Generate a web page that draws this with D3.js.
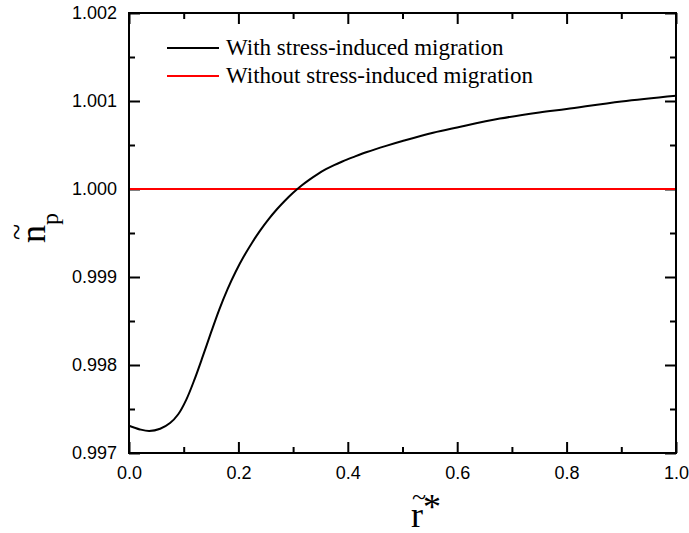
<!DOCTYPE html>
<html>
<head>
<meta charset="utf-8">
<script src="https://cdn.jsdelivr.net/npm/d3@7"></script>
<style>
  body { margin: 0; background: #fff; }
  svg { display: block; }
  .tick text { font-family: "Liberation Sans", Arial, sans-serif; font-size: 18px; fill: #000; }
  .legend-text { font-family: "Liberation Serif", "Times New Roman", serif; font-size: 23px; }
  .axis-label { font-family: "Liberation Serif", "Times New Roman", serif; }
</style>
</head>
<body>
<svg id="chart" width="689" height="533"></svg>
<script>
// curve
const rValues = [0, 0.02, 0.037, 0.057, 0.075, 0.09, 0.105, 0.12, 0.135, 0.15, 0.165, 0.18, 0.195, 0.21, 0.225, 0.24, 0.255, 0.27, 0.285, 0.3, 0.315, 0.33, 0.345, 0.36, 0.375, 0.39, 0.41, 0.435, 0.47, 0.5, 0.556, 0.6, 0.678, 0.75, 0.8, 0.9, 1.0];
const npStress = [0.99731, 0.997268, 0.99725, 0.997275, 0.99734, 0.99744, 0.99761, 0.99784, 0.9981, 0.99837, 0.99863, 0.99886, 0.99906, 0.999235, 0.99939, 0.99953, 0.999655, 0.999767, 0.999867, 0.999957, 1.000037, 1.000107, 1.00017, 1.000225, 1.000272, 1.000313, 1.000362, 1.00042, 1.00049, 1.000545, 1.00064, 1.0007, 1.0008, 1.00087, 1.00091, 1.000995, 1.00106];
const rFlat = [0, 1];
const npFlat = [1.0, 1.0];

const seriesNames = ["With stress-induced migration", "Without stress-induced migration"];
const seriesColors = ["#000000", "#ff0000"];

const xMajor = [0, 0.2, 0.4, 0.6, 0.8, 1.0];
const xMinor = [0.1, 0.3, 0.5, 0.7, 0.9];
const yMajor = [0.997, 0.998, 0.999, 1.0, 1.001, 1.002];
const yMinor = [0.9975, 0.9985, 0.9995, 1.0005, 1.0015];

const svg = d3.select("#chart");
const margin = { top: 13, right: 13, bottom: 80, left: 129 };
const innerWidth = +svg.attr("width") - margin.left - margin.right;
const innerHeight = +svg.attr("height") - margin.top - margin.bottom;

const g = svg.append("g")
  .attr("transform", `translate(${margin.left},${margin.top})`);

const x = d3.scaleLinear().domain([0, 1]).range([0, innerWidth]);
const y = d3.scaleLinear().domain([0.997, 1.002]).range([innerHeight, 0]);

function styleAxis(sel) {
  sel.select(".domain").remove();
  sel.selectAll(".tick line").attr("stroke", "#000").attr("stroke-width", 2);
}

// major ticks with labels
g.append("g")
  .attr("transform", `translate(0,${innerHeight})`)
  .call(d3.axisBottom(x).tickValues(xMajor).tickSize(-11).tickPadding(13).tickFormat(d3.format(".1f")))
  .call(styleAxis);
g.append("g")
  .call(d3.axisLeft(y).tickValues(yMajor).tickSize(-11).tickPadding(12).tickFormat(d3.format(".3f")))
  .call(styleAxis);
g.append("g")
  .call(d3.axisTop(x).tickValues(xMajor).tickSize(-11).tickFormat(""))
  .call(styleAxis);
g.append("g")
  .attr("transform", `translate(${innerWidth},0)`)
  .call(d3.axisRight(y).tickValues(yMajor).tickSize(-11).tickFormat(""))
  .call(styleAxis);

// minor ticks
g.append("g")
  .attr("transform", `translate(0,${innerHeight})`)
  .call(d3.axisBottom(x).tickValues(xMinor).tickSize(-6).tickFormat(""))
  .call(styleAxis);
g.append("g")
  .call(d3.axisTop(x).tickValues(xMinor).tickSize(-6).tickFormat(""))
  .call(styleAxis);
g.append("g")
  .call(d3.axisLeft(y).tickValues(yMinor).tickSize(-6).tickFormat(""))
  .call(styleAxis);
g.append("g")
  .attr("transform", `translate(${innerWidth},0)`)
  .call(d3.axisRight(y).tickValues(yMinor).tickSize(-6).tickFormat(""))
  .call(styleAxis);

const line = d3.line()
  .x(d => x(d[0]))
  .y(d => y(d[1]))
  .curve(d3.curveCatmullRom.alpha(0.5));

g.append("path")
  .datum(rFlat.map((r, i) => [r, npFlat[i]]))
  .attr("fill", "none")
  .attr("stroke", seriesColors[1])
  .attr("stroke-width", 2)
  .attr("d", line);

g.append("path")
  .datum(rValues.map((r, i) => [r, npStress[i]]))
  .attr("fill", "none")
  .attr("stroke", seriesColors[0])
  .attr("stroke-width", 2)
  .attr("d", line);

// frame
g.append("rect")
  .attr("width", innerWidth)
  .attr("height", innerHeight)
  .attr("fill", "none")
  .attr("stroke", "#000")
  .attr("stroke-width", 2);

// legend
const legend = g.append("g").attr("transform", "translate(38,35)");
seriesNames.forEach((name, i) => {
  const row = legend.append("g").attr("transform", `translate(0,${i * 28})`);
  row.append("line")
    .attr("x1", 0).attr("x2", 52)
    .attr("stroke", seriesColors[i])
    .attr("stroke-width", 2);
  row.append("text")
    .attr("class", "legend-text")
    .attr("x", 59)
    .attr("y", 7)
    .text(name);
});

// x axis label  r~*
const xl = svg.append("text")
  .attr("class", "axis-label")
  .attr("x", 411)
  .attr("y", 527)
  .attr("font-size", 36);
xl.append("tspan").text("r");
xl.append("tspan").attr("dy", -8).text("*");
svg.append("text")
  .attr("class", "axis-label")
  .attr("x", 419)
  .attr("y", 505)
  .attr("text-anchor", "middle")
  .attr("font-size", 26)
  .text("~");

// y axis label  n~ p
const yl = svg.append("text")
  .attr("class", "axis-label")
  .attr("transform", "translate(45,243) rotate(-90)")
  .attr("font-size", 36);
yl.append("tspan").text("n");
yl.append("tspan").attr("dy", 13).attr("font-size", 24).text("p");
svg.append("text")
  .attr("class", "axis-label")
  .attr("transform", "translate(27,232) rotate(-90)")
  .attr("text-anchor", "middle")
  .attr("font-size", 30)
  .text("~");
</script>
</body>
</html>
